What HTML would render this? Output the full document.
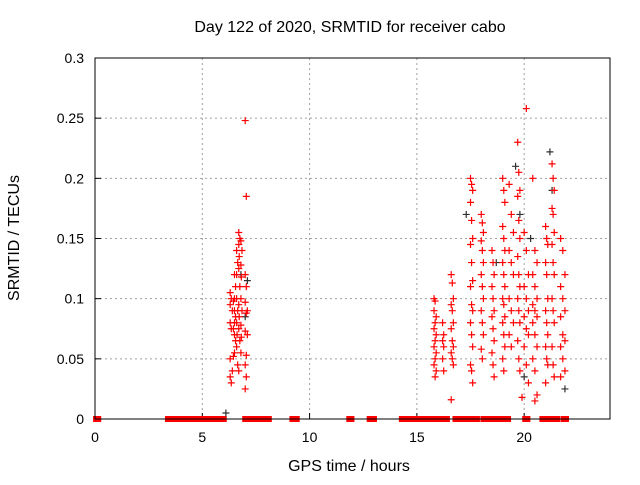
<!DOCTYPE html>
<html><head><meta charset="utf-8"><style>
body{margin:0;background:#fff;}
svg text{font-family:"Liberation Sans",sans-serif;font-size:14px;fill:#000;}
svg text.big{font-size:16px;}
</style></head><body>
<svg id="chart" width="640" height="480" xmlns="http://www.w3.org/2000/svg">
<rect width="640" height="480" fill="#fff"/>
<text class="big" x="350" y="32" text-anchor="middle">Day 122 of 2020, SRMTID for receiver cabo</text>
<text class="big" x="349" y="471" text-anchor="middle">GPS time / hours</text>
<text class="big" transform="translate(19,238) rotate(-90)" text-anchor="middle">SRMTID / TECUs</text>
<g id="grid"></g><g id="ticks"></g><g id="marks"></g>
<rect x="95" y="58" width="515" height="361" fill="none" stroke="#000" stroke-width="1"/>
</svg>
<script>
const xTicks=[0,5,10,15,20];
const yTicks=[0,0.05,0.1,0.15,0.2,0.25,0.3];
const yTickLabels=["0","0.05","0.1","0.15","0.2","0.25","0.3"];
const redTimes=[6.3,6.35,6.3,6.4,6.3,6.35,6.3,6.4,6.3,6.35,
6.5,6.55,6.5,6.45,6.5,6.55,6.5,6.45,6.5,6.55,6.5,6.45,
6.6,6.65,6.6,6.6,6.65,6.6,6.62,6.6,6.65,
6.7,6.75,6.7,6.72,6.7,6.75,6.7,6.72,6.7,6.75,6.7,
6.8,6.85,6.8,6.82,6.8,6.85,6.8,6.82,6.8,
7.0,7.05,7.0,7.05,7.0,7.05,7.0,7.05,7.0,7.05,7.0,7.1,7.1,
15.8,15.85,15.8,15.9,15.85,15.8,15.9,15.85,15.8,15.9,15.85,15.8,15.9,15.85,
16.2,16.25,16.2,16.25,16.2,16.25,
16.6,16.65,16.7,16.6,16.65,16.7,16.6,16.65,16.7,16.6,16.65,16.7,16.6,
17.5,17.55,17.6,17.5,17.55,17.6,17.5,17.55,17.6,17.5,17.55,17.6,17.5,17.55,17.6,17.5,17.55,17.6,
18.0,18.05,18.1,18.0,18.05,18.1,18.0,18.05,18.1,18.0,18.05,18.1,18.0,18.05,
18.5,18.55,18.6,18.5,18.55,18.6,18.5,18.55,18.6,18.5,18.55,18.6,
19.0,19.05,19.1,19.0,19.05,19.1,19.0,19.05,19.1,19.0,19.05,19.1,19.0,19.05,19.1,19.0,19.05,
19.3,19.4,19.5,19.3,19.4,19.5,19.3,19.4,19.5,19.3,19.4,
19.7,19.75,19.8,19.7,19.75,19.8,19.7,19.75,19.8,19.7,19.75,19.8,19.7,19.75,19.8,19.9,
20.1,20.0,20.1,20.2,20.0,20.1,20.2,20.0,20.1,20.2,20.0,20.1,20.2,
20.4,20.5,20.6,20.4,20.5,20.6,20.4,20.5,20.6,20.4,20.5,20.6,20.4,20.5,20.6,20.5,
21.0,21.05,21.1,21.0,21.05,21.1,21.0,21.05,21.1,21.0,21.05,21.1,21.0,
21.3,21.35,21.4,21.3,21.35,21.4,21.3,21.35,21.4,21.3,21.35,21.4,21.3,21.35,21.4,
21.7,21.8,21.9,21.7,21.8,21.9,21.7,21.8,21.9,21.7,21.8,21.9,21.7];
const redValues=[0.105,0.1,0.095,0.09,0.08,0.075,0.05,0.04,0.035,0.03,
0.12,0.11,0.1,0.098,0.09,0.085,0.08,0.075,0.07,0.065,0.055,0.052,
0.14,0.13,0.12,0.1,0.09,0.08,0.07,0.06,0.045,
0.155,0.15,0.145,0.135,0.125,0.11,0.095,0.085,0.075,0.065,0.04,
0.148,0.14,0.128,0.118,0.1,0.09,0.078,0.068,0.055,
0.248,0.185,0.12,0.11,0.097,0.088,0.073,0.053,0.045,0.035,0.025,0.09,0.07,
0.1,0.098,0.09,0.085,0.08,0.075,0.07,0.065,0.06,0.055,0.05,0.045,0.04,0.035,
0.08,0.07,0.065,0.06,0.05,0.04,
0.12,0.113,0.1,0.095,0.09,0.08,0.075,0.065,0.06,0.055,0.05,0.045,0.016,
0.2,0.195,0.19,0.18,0.165,0.15,0.145,0.13,0.115,0.11,0.095,0.09,0.08,0.07,0.06,0.045,0.04,0.03,
0.17,0.163,0.155,0.148,0.14,0.13,0.12,0.11,0.1,0.09,0.08,0.07,0.058,0.05,
0.14,0.13,0.12,0.11,0.1,0.09,0.085,0.075,0.065,0.055,0.045,0.035,
0.2,0.19,0.18,0.16,0.15,0.14,0.13,0.12,0.11,0.1,0.095,0.085,0.08,0.07,0.06,0.05,0.04,
0.195,0.17,0.155,0.14,0.13,0.12,0.1,0.09,0.08,0.07,0.06,
0.23,0.205,0.19,0.185,0.165,0.15,0.135,0.12,0.11,0.1,0.09,0.08,0.065,0.05,0.04,0.018,
0.258,0.155,0.14,0.12,0.11,0.1,0.09,0.085,0.075,0.07,0.06,0.045,0.03,
0.2,0.14,0.13,0.12,0.11,0.1,0.095,0.09,0.085,0.08,0.07,0.06,0.05,0.04,0.02,0.015,
0.16,0.15,0.145,0.13,0.12,0.1,0.09,0.08,0.07,0.06,0.05,0.045,0.03,
0.212,0.2,0.19,0.175,0.17,0.155,0.145,0.13,0.12,0.1,0.09,0.08,0.06,0.045,0.035,
0.15,0.14,0.12,0.11,0.1,0.09,0.085,0.07,0.065,0.06,0.05,0.04,0.035];
const grayTimes=[6.1,6.8,7.1,7.0,17.3,19.6,19.8,20.0,21.2,21.3,21.9,18.7,20.3];
const grayValues=[0.005,0.12,0.115,0.085,0.17,0.21,0.17,0.035,0.222,0.19,0.025,0.13,0.15];
const zeroStart=[0.05,3.4,7.0,7.35,9.2,11.85,12.8,14.3,16.0,16.8,18.1,18.6,19.15,20.05,20.85,21.45,21.85];
const zeroEnd=[0.15,6.0,7.15,8.1,9.4,11.95,13.0,15.8,16.4,17.8,18.4,18.9,19.25,20.15,21.2,21.55,21.95];

const NS="http://www.w3.org/2000/svg";
const X=t=>95+t*(515/24);
const Y=v=>419-v*(361/0.3);
function mk(tag,attrs,parent){const e=document.createElementNS(NS,tag);for(const k in attrs)e.setAttribute(k,attrs[k]);parent.appendChild(e);return e;}
const grid=document.getElementById('grid'),ticks=document.getElementById('ticks'),marks=document.getElementById('marks');
xTicks.forEach(t=>{
 if(t>0){const g=mk('line',{x1:X(t),x2:X(t),y1:58,y2:419,stroke:'#a0a0a0','stroke-dasharray':'2,3'},grid);
 
 }
 const tl=mk('line',{x1:X(t),x2:X(t),y1:419,y2:413,stroke:'#000'},ticks);
 
 
 const tx=mk('text',{x:X(t),y:442,'text-anchor':'middle'},ticks);tx.textContent=t;
 
 
});
yTicks.forEach((v,i)=>{
 if(v>0){const g=mk('line',{x1:95,x2:610,y1:Y(v),y2:Y(v),stroke:'#a0a0a0','stroke-dasharray':'2,3'},grid);
 
 }
 const tl=mk('line',{x1:95,x2:101,y1:Y(v),y2:Y(v),stroke:'#000'},ticks);
 
 
 const tx=mk('text',{x:84,y:Y(v)+5,'text-anchor':'end'},ticks);tx.textContent=yTickLabels[i];
 
 
});
function plus(t,v,color,name){
 const x=X(t),y=Y(v);
 const p=mk('path',{d:`M${x-3.5},${y}H${x+3.5}M${x},${y-3.5}V${y+3.5}`,stroke:color,'stroke-width':1.2,fill:'none'},marks);
 
 
}
zeroStart.forEach((s,i)=>{
 const r=mk('rect',{x:X(s)-3,y:416,width:X(zeroEnd[i])-X(s)+6,height:6,fill:'#f00'},marks);
 
 
});
grayTimes.forEach((t,i)=>plus(t,grayValues[i],'#303030','gray-point'));
redTimes.forEach((t,i)=>plus(t,redValues[i],'#f00','red-point'));
const ax=mk('line',{x1:95,x2:610,y1:419,y2:419,stroke:'#000'},marks);


</script>
</body></html>
